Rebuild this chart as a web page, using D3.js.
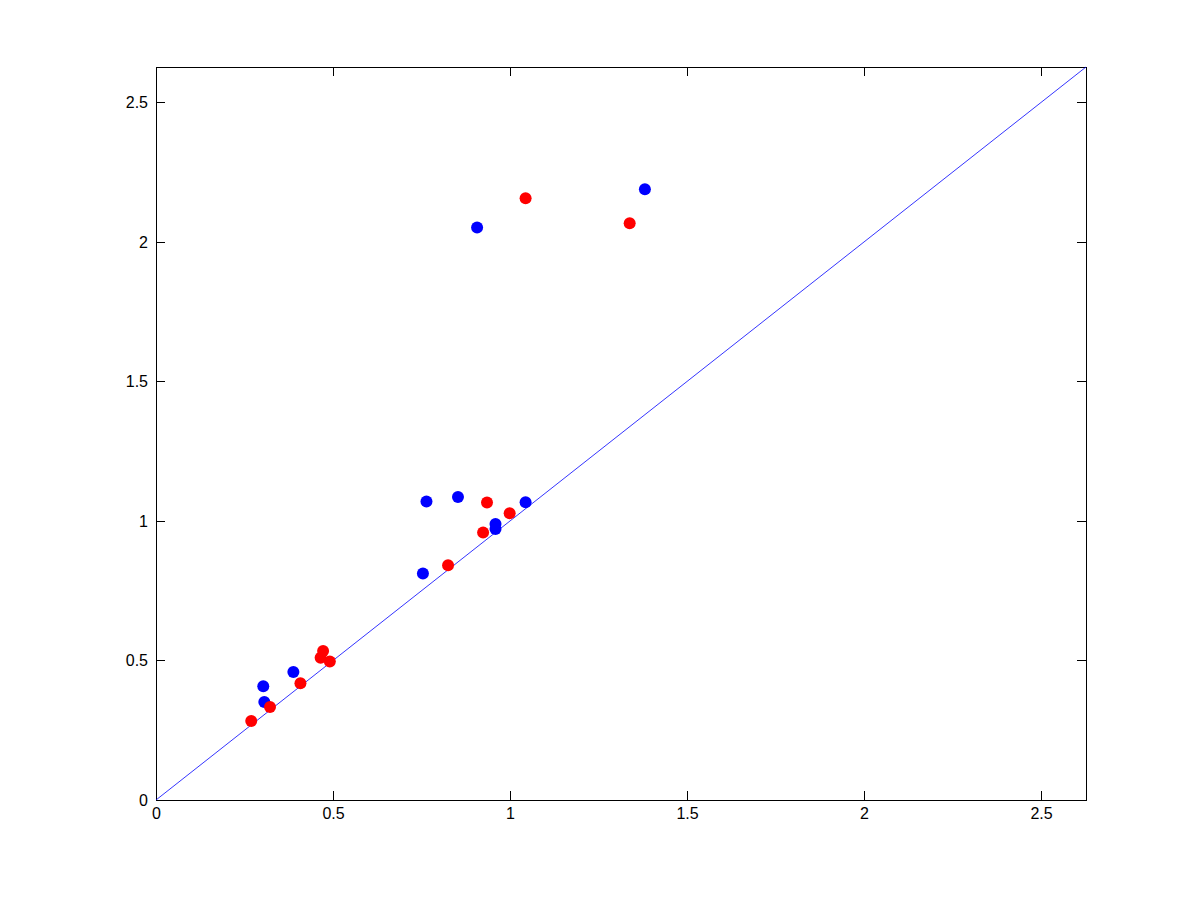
<!DOCTYPE html>
<html>
<head>
<meta charset="utf-8">
<script src="https://cdn.jsdelivr.net/npm/d3@7"></script>
<style>
  body { margin: 0; background: #fff; }
  svg { display: block; }
  .tick text { font-family: "Liberation Sans", Arial, Helvetica, sans-serif; font-size: 16px; fill: #000; }
</style>
</head>
<body>
<div id="chart"></div>
<script>
"use strict";

// values
const blueX = [0.303, 0.306, 0.388, 0.754, 0.764, 0.853, 0.907, 0.959, 0.959, 1.044, 1.381];
const blueY = [0.408, 0.351, 0.459, 0.812, 1.070, 1.086, 2.052, 0.989, 0.971, 1.067, 2.189];

const redX = [0.269, 0.322, 0.408, 0.472, 0.465, 0.491, 0.825, 0.924, 0.935, 0.999, 1.044, 1.338];
const redY = [0.283, 0.333, 0.418, 0.534, 0.510, 0.496, 0.841, 0.959, 1.066, 1.028, 2.157, 2.067];

const tickValues = [0, 0.5, 1, 1.5, 2, 2.5];
const axisMax = 2.627;

/***** layout *****/
const width = 1200, height = 900,
    padLeft = 156, padRight = 1086, padTop = 67, padBottom = 800,
    tickLen = 9;

const svg = d3.select("#chart")
    .append("svg")
    .attr("width", width)
    .attr("height", height);

const x = d3.scaleLinear().domain([0, axisMax]).range([padLeft, padRight]);
const y = d3.scaleLinear().domain([0, axisMax]).range([padBottom, padTop]);

/***** axes *****/
const fmt = d => d3.format("")(d);

svg.append("g")
    .attr("transform", `translate(0, ${padBottom})`)
    .call(d3.axisBottom(x).tickValues(tickValues).tickFormat(fmt).tickSizeInner(-tickLen).tickSizeOuter(0).tickPadding(8))
    .call(g => g.select(".domain").remove());

svg.append("g")
    .attr("transform", `translate(0, ${padTop})`)
    .call(d3.axisTop(x).tickValues(tickValues).tickFormat("").tickSizeInner(-tickLen).tickSizeOuter(0))
    .call(g => g.select(".domain").remove());

svg.append("g")
    .attr("transform", `translate(${padLeft}, 0)`)
    .call(d3.axisLeft(y).tickValues(tickValues).tickFormat(fmt).tickSizeInner(-tickLen).tickSizeOuter(0).tickPadding(8))
    .call(g => g.select(".domain").remove());

svg.append("g")
    .attr("transform", `translate(${padRight}, 0)`)
    .call(d3.axisRight(y).tickValues(tickValues).tickFormat("").tickSizeInner(-tickLen).tickSizeOuter(0))
    .call(g => g.select(".domain").remove());

svg.selectAll(".tick line").attr("stroke", "#000").attr("shape-rendering", "crispEdges");

svg.append("rect")
    .attr("x", padLeft)
    .attr("y", padTop)
    .attr("width", padRight - padLeft)
    .attr("height", padBottom - padTop)
    .attr("fill", "none")
    .attr("stroke", "#000")
    .attr("shape-rendering", "crispEdges");

/***** diagonal *****/
svg.append("line")
    .attr("x1", x(0)).attr("y1", y(0))
    .attr("x2", x(axisMax)).attr("y2", y(axisMax))
    .attr("stroke", "#0000ff")
    .attr("stroke-width", 0.8);

/***** points *****/
function drawPoints(xs, ys, color) {
    svg.append("g")
        .selectAll("circle")
        .data(xs.map((v, i) => [v, ys[i]]))
        .enter()
        .append("circle")
        .attr("cx", d => x(d[0]))
        .attr("cy", d => y(d[1]))
        .attr("r", 6)
        .attr("fill", color);
}

drawPoints(blueX, blueY, "#0000ff");
drawPoints(redX, redY, "#ff0000");
</script>
</body>
</html>
